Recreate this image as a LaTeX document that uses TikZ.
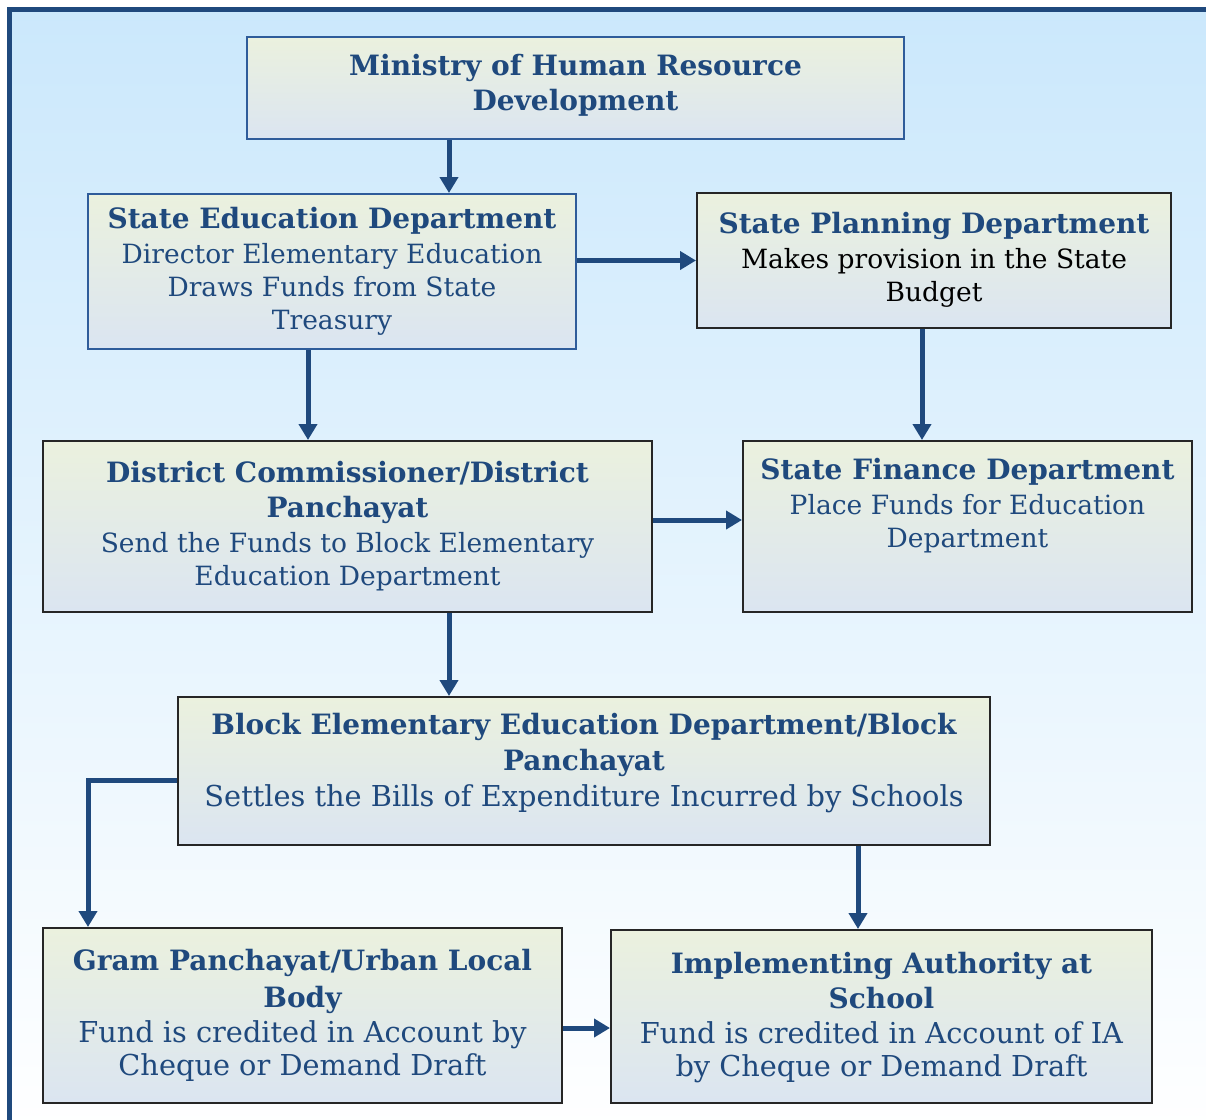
\documentclass[tikz,border=0pt]{standalone}
\usepackage{fontspec}
\setmainfont{DejaVu Serif}
\usetikzlibrary{arrows.meta}
\definecolor{navy}{RGB}{31,73,125}
\definecolor{rimblue}{RGB}{47,92,154}
\definecolor{boxtop}{RGB}{235,241,222}
\definecolor{boxbot}{RGB}{219,229,241}
\definecolor{bgtop}{RGB}{203,232,252}
\tikzset{
  box/.style={rectangle, draw=black!85, line width=1pt, top color=boxtop, bottom color=boxbot,
    align=center, inner sep=2pt, text=navy, font=\fontsize{13.25}{16.5}\selectfont},
  bigbox/.style={box, font=\fontsize{14.4}{17}\selectfont},
  bluebox/.style={box, draw=rimblue},
  flow/.style={draw=navy, line width=2.5pt, -{Triangle[length=8pt,width=9pt]}}
}
\newcommand{\ttl}[1]{{\fontsize{14}{17}\selectfont\bfseries #1}}
\begin{document}
\begin{tikzpicture}[x=0.5pt,y=-0.5pt]
\useasboundingbox (0,0) rectangle (1206,1120);
\fill[top color=bgtop, bottom color=white] (9.5,9.5) rectangle (1230,1140);
\draw[navy, line width=2.5pt] (9.5,1140) -- (9.5,9.5) -- (1230,9.5);
% boxes
\node[bluebox, minimum width=328.5pt, minimum height=51pt] (mhrd) at (575.5,88)
  {\ttl{Ministry of Human Resource}\\[1pt]\ttl{Development}\\[-11pt]~};
\node[bluebox, minimum width=244pt, minimum height=77.5pt] (sed) at (332,271.5)
  {\ttl{State Education Department}\\[1pt]Director Elementary Education\\Draws Funds from State\\Treasury};
\node[box, minimum width=237pt, minimum height=67.5pt] (spd) at (934,260.5)
  {\ttl{State Planning Department}\\[1pt]\textcolor{black}{Makes provision in the State}\\\textcolor{black}{Budget}\\[-12.5pt]~};
\node[box, minimum width=304.5pt, minimum height=85.5pt] (dc) at (347.5,526.5)
  {\ttl{District Commissioner/District}\\[1pt]\ttl{Panchayat}\\[1pt]Send the Funds to Block Elementary\\Education Department\\[-13pt]~};
\node[box, minimum width=224.5pt, minimum height=85.5pt] (sfd) at (967.5,526.5)
  {\ttl{State Finance Department}\\[1pt]Place Funds for Education\\Department\\[7pt]~};
\node[bigbox, minimum width=406pt, minimum height=74pt] (bl) at (584,771)
  {\ttl{Block Elementary Education Department/Block}\\[1pt]\ttl{Panchayat}\\[1pt]Settles the Bills of Expenditure Incurred by Schools\\[-6pt]~};
\node[bigbox, minimum width=259.5pt, minimum height=87.5pt] (gp) at (302.5,1015.5)
  {\ttl{Gram Panchayat/Urban Local}\\[1.5pt]\ttl{Body}\\[0.5pt]Fund is credited in Account by\\[-0.5pt]Cheque or Demand Draft\\[-14pt]~};
\node[bigbox, minimum width=270.5pt, minimum height=86.5pt] (ia) at (881.5,1016.5)
  {\ttl{Implementing Authority at}\\[0.5pt]\ttl{School}\\[0.5pt]Fund is credited in Account of IA\\[-0.5pt]by Cheque or Demand Draft\\[-15pt]~};
% arrow lanes
\coordinate (L1) at (449,0);
\coordinate (L2) at (308,0);
\coordinate (L3) at (922,0);
\coordinate (L4) at (88,0);
\coordinate (L5) at (858,0);
% connectors
\draw[flow] (mhrd.south -| L1) -- (sed.north -| L1);
\draw[flow] (sed.east |- spd.west) -- (spd.west);
\draw[flow] (sed.south -| L2) -- (dc.north -| L2);
\draw[flow] (spd.south -| L3) -- (sfd.north -| L3);
\draw[flow] ([yshift=3.25pt]dc.east) -- ([yshift=3.25pt]sfd.west);
\draw[flow] (dc.south -| L1) -- (bl.north -| L1);
\draw[flow] ([yshift=-4.5pt]bl.west) -| (gp.north -| L4);
\draw[flow] (bl.south -| L5) -- (ia.north -| L5);
\draw[flow] ([yshift=-6.25pt]gp.east) -- ([yshift=-6.25pt]gp.east -| ia.west);
\end{tikzpicture}
\end{document}
